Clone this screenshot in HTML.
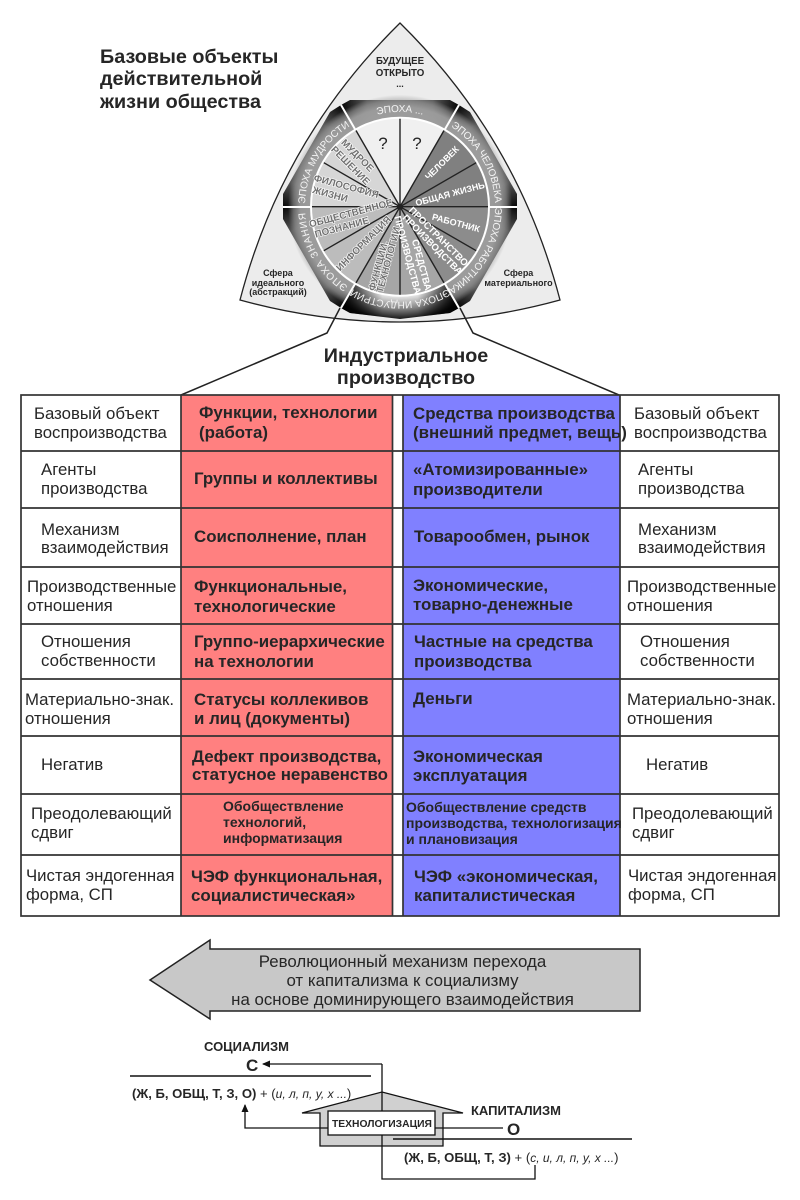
<!DOCTYPE html>
<html><head><meta charset="utf-8"><style>
html,body{margin:0;padding:0;background:#fff}
svg{display:block}
text{font-family:"Liberation Sans","DejaVu Sans",sans-serif;fill:#262626}
.r{font-size:16.8px}
.b{font-size:16.9px;font-weight:bold}
.s{font-size:14px;font-weight:bold}
.band{font-size:10px;fill:#f4f4f4;text-anchor:middle}
.w{font-size:9px;font-weight:bold;fill:#fff;text-anchor:middle;dominant-baseline:central}
.w2{font-size:9.6px;font-weight:bold;fill:#fff;text-anchor:middle;dominant-baseline:central}
.g{font-size:9.8px;font-weight:bold;fill:#707070;text-anchor:middle;dominant-baseline:central;stroke:#fff;stroke-width:1.2px;paint-order:stroke}
</style></head><body>
<svg width="800" height="1200" viewBox="0 0 800 1200" xmlns="http://www.w3.org/2000/svg">
<defs>
<linearGradient id="gt"><stop offset="0" stop-color="#050505"/><stop offset=".22" stop-color="#5a5a5a"/><stop offset=".78" stop-color="#5a5a5a"/><stop offset="1" stop-color="#050505"/></linearGradient>
<linearGradient id="s0" href="#gt" gradientUnits="userSpaceOnUse" x1="341" y1="105" x2="459" y2="105"/>
<linearGradient id="s1" href="#gt" gradientUnits="userSpaceOnUse" x1="459" y1="105" x2="517" y2="207"/>
<linearGradient id="s2" href="#gt" gradientUnits="userSpaceOnUse" x1="517" y1="207" x2="459" y2="308"/>
<linearGradient id="s4" href="#gt" gradientUnits="userSpaceOnUse" x1="341" y1="308" x2="283" y2="207"/>
<linearGradient id="s5" href="#gt" gradientUnits="userSpaceOnUse" x1="283" y1="207" x2="341" y2="105"/>
<radialGradient id="ov" gradientUnits="userSpaceOnUse" cx="400" cy="206.7" r="112"><stop offset=".8" stop-color="#a0a0a0" stop-opacity=".95"/><stop offset=".89" stop-color="#a0a0a0" stop-opacity=".92"/><stop offset=".95" stop-color="#a0a0a0" stop-opacity=".55"/><stop offset="1" stop-color="#a0a0a0" stop-opacity="0"/></radialGradient>
<radialGradient id="gbr" gradientUnits="userSpaceOnUse" cx="400" cy="206.7" r="113"><stop offset=".8" stop-color="#e0e0e0"/><stop offset=".9" stop-color="#888"/><stop offset="1" stop-color="#111"/></radialGradient>
<linearGradient id="gbo" x1="0" y1="0" x2="1" y2="0"><stop offset="0" stop-color="#000"/><stop offset=".35" stop-color="#000" stop-opacity="0"/><stop offset=".65" stop-color="#000" stop-opacity="0"/><stop offset="1" stop-color="#000"/></linearGradient>
<marker id="ah" markerWidth="9" markerHeight="8" refX="7" refY="3.5" orient="auto" markerUnits="userSpaceOnUse"><path d="M0,0L8,3.5L0,7z" fill="#111"/></marker>
<path id="p0" d="M352.5,124.7A95,95 0 0 1 447.5,124.7"/>
<path id="p1" d="M447.5,124.7A95,95 0 0 1 495,206.7"/>
<path id="p2" d="M495,206.7A95,95 0 0 1 447.5,289"/>
<path id="p3" d="M447.5,289A95,95 0 0 1 352.5,289"/>
<path id="p4" d="M352.5,289A95,95 0 0 1 305,206.7"/>
<path id="p5" d="M305,206.7A95,95 0 0 1 352.5,124.7"/>
</defs>

<!-- outer shape -->
<path d="M400,23Q282,139 240,300Q400,344 560,300Q518,139 400,23z" fill="#ececec" stroke="#222" stroke-width="1.3"/>

<!-- band segments -->
<g stroke="none">
<path d="M341,105L350,100L450,100L459,105L400,206.7z" fill="url(#s0)"/>
<path d="M459,105L470,112L517,194L517,207L400,206.7z" fill="url(#s1)"/>
<path d="M517,207L517,219L470,301L459,308L400,206.7z" fill="url(#s2)"/>
<path d="M341,308L330,301L283,219L283,207L400,206.7z" fill="url(#s4)"/>
<path d="M283,207L283,194L330,112L341,105L400,206.7z" fill="url(#s5)"/>
<circle cx="400" cy="206.7" r="112" fill="url(#ov)"/>
<path d="M459,308L450,313L400,319L350,313L341,308L400,206.7z" fill="url(#gbr)"/>
<path d="M459,308L450,313L400,319L350,313L341,308L400,206.7z" fill="url(#gbo)"/>
</g>
<circle cx="400" cy="206.7" r="90" fill="#fff"/>
<g stroke="#fff" stroke-width="2">
<path d="M341,105L400,206.7M459,105L400,206.7M517,207L283,207M341,308L400,206.7M459,308L400,206.7"/>
</g>
<!-- sectors r=88 -->
<g stroke="none">
<path d="M400,206.7L400,118.7A88,88 0 0 1 444,130.5z" fill="#f0f0f0"/>
<path d="M400,206.7L400,118.7A88,88 0 0 0 356,130.5z" fill="#f0f0f0"/>
<path d="M400,206.7L444,130.5A88,88 0 0 1 488,206.7z" fill="#808080"/>
<path d="M400,206.7L488,206.7A88,88 0 0 1 444,282.9z" fill="#8c8c8c"/>
<path d="M400,206.7L444,282.9A88,88 0 0 1 356,282.9z" fill="#a6a6a6"/>
<path d="M400,206.7L356,282.9A88,88 0 0 1 312,206.7z" fill="#bcbcbc"/>
<path d="M400,206.7L312,206.7A88,88 0 0 1 356,130.5z" fill="#d6d6d6"/>
</g>
<g stroke="#222" stroke-width="1.4">
<path d="M400,118.7V294.7M312,206.7H488M356,130.5L444,282.9M444,130.5L356,282.9M323.8,162.7L476.2,250.7M476.2,162.7L323.8,250.7"/>
</g>
<circle cx="400" cy="206.7" r="3" fill="#222"/>

<text class="band"><textPath href="#p0" startOffset="50%">ЭПОХА ...</textPath></text>
<text class="band"><textPath href="#p1" startOffset="50%">ЭПОХА ЧЕЛОВЕКА</textPath></text>
<text class="band"><textPath href="#p2" startOffset="50%">ЭПОХА РАБОТНИКА</textPath></text>
<text class="band"><textPath href="#p3" startOffset="50%">ЭПОХА ИНДУСТРИИ</textPath></text>
<text class="band" letter-spacing=".8"><textPath href="#p4" startOffset="50%">ЭПОХА ЗНАНИЯ</textPath></text>
<text class="band"><textPath href="#p5" startOffset="50%">ЭПОХА МУДРОСТИ</textPath></text>

<text x="383" y="149" font-size="17" text-anchor="middle">?</text>
<text x="417" y="149" font-size="17" text-anchor="middle">?</text>

<text class="w" transform="translate(442,163) rotate(-45)">ЧЕЛОВЕК</text>
<text class="w" transform="translate(450,194) rotate(-15)">ОБЩАЯ ЖИЗНЬ</text>
<text class="w" transform="translate(456,223) rotate(15)">РАБОТНИК</text>
<text class="w2" transform="translate(438,237) rotate(45)">ПРОСТРАНСТВО</text>
<text class="w2" transform="translate(432,245) rotate(45)">ПРОИЗВОДСТВА</text>
<text class="w2" transform="translate(421,265) rotate(75)">СРЕДСТВА</text>
<text class="w2" transform="translate(407,255) rotate(75)">ПРОИЗВОДСТВА</text>
<text class="g" transform="translate(379,266) rotate(-75)">ФУНКЦИИ,</text>
<text class="g" transform="translate(389,260) rotate(-75)">ТЕХНОЛОГИИ</text>
<text class="g" transform="translate(364,244) rotate(-45)">ИНФОРМАЦИЯ</text>
<text class="g" transform="translate(351,214) rotate(-15)">ОБЩЕСТВЕННОЕ</text>
<text class="g" transform="translate(342,228) rotate(-15)">ПОЗНАНИЕ</text>
<text class="g" transform="translate(346,187) rotate(15)">ФИЛОСОФИЯ</text>
<text class="g" transform="translate(330,195) rotate(15)">ЖИЗНИ</text>
<text class="g" transform="translate(357,156) rotate(45)">МУДРОЕ</text>
<text class="g" transform="translate(350,166) rotate(45)">РЕШЕНИЕ</text>

<g font-weight="bold" font-size="9" text-anchor="middle">
<text x="400" y="64" font-size="9.7">БУДУЩЕЕ</text><text x="400" y="76" font-size="9.7">ОТКРЫТО</text><text x="400" y="87">...</text>
<text x="278" y="276">Сфера</text><text x="278" y="286">идеального</text><text x="278" y="295">(абстракций)</text>
<text x="518.500" y="276">Сфера</text><text x="518.500" y="286">материального</text>
</g>

<text x="100" y="63" font-size="19.8" font-weight="bold">Базовые объекты</text>
<text x="100" y="85" font-size="19.8" font-weight="bold">действительной</text>
<text x="100" y="108" font-size="19.8" font-weight="bold">жизни общества</text>

<path d="M340,308L327,333L181,395M460,308L473,333L619,395" fill="none" stroke="#222" stroke-width="1.5"/>
<text x="406" y="362" font-size="19.7" font-weight="bold" text-anchor="middle">Индустриальное</text>
<text x="406" y="384" font-size="19.7" font-weight="bold" text-anchor="middle">производство</text>

<!-- table -->
<rect x="181" y="395" width="211" height="521" fill="#ff8080"/>
<rect x="403" y="395" width="217" height="521" fill="#8080ff"/>
<g stroke="#333" stroke-width="1.7" fill="none">
<rect x="21" y="395" width="758" height="521"/>
<path d="M21,451H779M21,508H779M21,567H779M21,624H779M21,679H779M21,736H779M21,794H779M21,855H779"/>
<path d="M181,395V916M392.500,395V916M403,395V916M620,395V916"/>
</g>

<text class="r" x="34" y="419">Базовый объект</text><text class="r" x="34" y="438">воспроизводства</text>
<text class="r" x="41" y="475">Агенты</text><text class="r" x="41" y="494">производства</text>
<text class="r" x="41" y="535">Механизм</text><text class="r" x="41" y="553">взаимодействия</text>
<text class="r" x="27" y="592">Производственные</text><text class="r" x="27" y="611">отношения</text>
<text class="r" x="41" y="647">Отношения</text><text class="r" x="41" y="666">собственности</text>
<text class="r" x="25" y="705">Материально-знак.</text><text class="r" x="25" y="724">отношения</text>
<text class="r" x="41" y="770">Негатив</text>
<text class="r" x="31" y="819">Преодолевающий</text><text class="r" x="31" y="838">сдвиг</text>
<text class="r" x="26" y="881">Чистая эндогенная</text><text class="r" x="26" y="900">форма, СП</text>

<text class="r" x="634" y="419">Базовый объект</text><text class="r" x="634" y="438">воспроизводства</text>
<text class="r" x="638" y="475">Агенты</text><text class="r" x="638" y="494">производства</text>
<text class="r" x="638" y="535">Механизм</text><text class="r" x="638" y="553">взаимодействия</text>
<text class="r" x="627" y="592">Производственные</text><text class="r" x="627" y="611">отношения</text>
<text class="r" x="640" y="647">Отношения</text><text class="r" x="640" y="666">собственности</text>
<text class="r" x="627" y="705">Материально-знак.</text><text class="r" x="627" y="724">отношения</text>
<text class="r" x="646" y="770">Негатив</text>
<text class="r" x="632" y="819">Преодолевающий</text><text class="r" x="632" y="838">сдвиг</text>
<text class="r" x="628" y="881">Чистая эндогенная</text><text class="r" x="628" y="900">форма, СП</text>

<text class="b" x="199" y="418">Функции, технологии</text><text class="b" x="199" y="438">(работа)</text>
<text class="b" x="194" y="484">Группы и коллективы</text>
<text class="b" x="194" y="542">Соисполнение, план</text>
<text class="b" x="194" y="592">Функциональные,</text><text class="b" x="194" y="612">технологические</text>
<text class="b" x="194" y="647">Группо-иерархические</text><text class="b" x="194" y="667">на технологии</text>
<text class="b" x="194" y="705">Статусы коллекивов</text><text class="b" x="194" y="724">и лиц (документы)</text>
<text class="b" x="192" y="762">Дефект производства,</text><text class="b" x="192" y="780">статусное неравенство</text>
<text class="s" x="223" y="811">Обобществление</text><text class="s" x="223" y="827">технологий,</text><text class="s" x="223" y="843">информатизация</text>
<text class="b" x="191" y="882">ЧЭФ функциональная,</text><text class="b" x="191" y="901">социалистическая»</text>

<text class="b" x="413" y="419">Средства производства</text><text class="b" x="413" y="438">(внешний предмет, вещь)</text>
<text class="b" x="413" y="475">«Атомизированные»</text><text class="b" x="413" y="495">производители</text>
<text class="b" x="414" y="542">Товарообмен, рынок</text>
<text class="b" x="413" y="591">Экономические,</text><text class="b" x="413" y="610">товарно-денежные</text>
<text class="b" x="414" y="647">Частные на средства</text><text class="b" x="414" y="667">производства</text>
<text class="b" x="413" y="704">Деньги</text>
<text class="b" x="413" y="762">Экономическая</text><text class="b" x="413" y="781">эксплуатация</text>
<text class="s" x="406" y="812">Обобществление средств</text><text class="s" x="406" y="828">производства, технологизация</text><text class="s" x="406" y="844">и плановизация</text>
<text class="b" x="414" y="882">ЧЭФ «экономическая,</text><text class="b" x="414" y="901">капиталистическая</text>

<!-- arrow -->
<path d="M150,980L210,940V949H640V1011H210V1019z" fill="#c8c8c8" stroke="#222" stroke-width="1.5"/>
<g text-anchor="middle"><text x="402.500" y="967" font-size="16.85">Революционный механизм перехода</text>
<text x="402.500" y="986" font-size="16.85">от капитализма к социализму</text>
<text x="402.500" y="1005" font-size="16.85">на основе доминирующего взаимодействия</text></g>

<!-- bottom diagram -->
<path d="M302,1113L382,1092L463,1113H443V1146H320V1113z" fill="#d0d0d0" stroke="#111" stroke-width="1.3"/>
<path d="M382,1064H263" fill="none" stroke="#111" stroke-width="1.3" marker-end="url(#ah)"/>
<path d="M382,1064V1179H535V1165" fill="none" stroke="#111" stroke-width="1.3"/>
<path d="M503,1128H245V1105" fill="none" stroke="#111" stroke-width="1.3" marker-end="url(#ah)"/>
<rect x="328" y="1111" width="107" height="24" fill="#fff" stroke="#111" stroke-width="1.3"/>
<path d="M130,1076H371M393,1139H632" stroke="#111" stroke-width="1.6"/>
<text x="204" y="1051" font-size="13" font-weight="bold">СОЦИАЛИЗМ</text>
<text x="246" y="1071" font-size="17" font-weight="bold">С</text>
<text x="132" y="1098" font-size="13.1"><tspan font-weight="bold">(Ж, Б, ОБЩ, Т, З, О)</tspan> + (<tspan font-style="italic" font-size="12">и, л, п, у, х ...</tspan>)</text>
<text x="332" y="1127" font-size="10.3" font-weight="bold">ТЕХНОЛОГИЗАЦИЯ</text>
<text x="471" y="1115" font-size="13" font-weight="bold">КАПИТАЛИЗМ</text>
<text x="507" y="1135" font-size="17" font-weight="bold">О</text>
<text x="404" y="1162" font-size="13.1"><tspan font-weight="bold">(Ж, Б, ОБЩ, Т, З)</tspan> + (<tspan font-style="italic" font-size="12">с, и, л, п, у, х ...</tspan>)</text>
</svg>
</body></html>
